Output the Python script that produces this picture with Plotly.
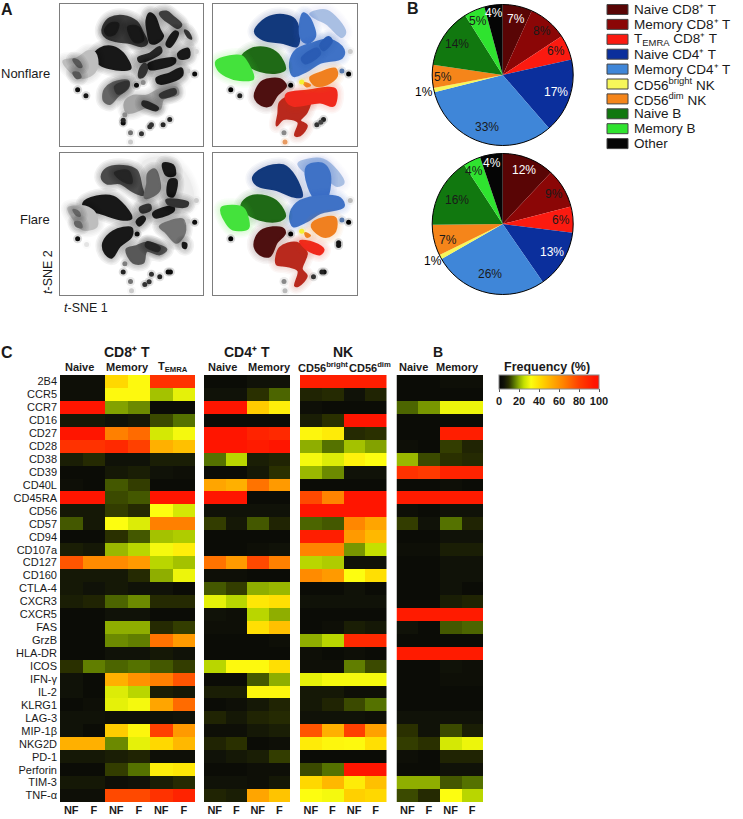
import plotly.graph_objects as go

W, H = 743, 819

# ---- panel C: frequency (%) per marker ----
MARKERS = ["2B4", "CCR5", "CCR7", "CD16", "CD27", "CD28", "CD38", "CD39", "CD40L", "CD45RA", "CD56",
           "CD57", "CD94", "CD107a", "CD127", "CD160", "CTLA-4", "CXCR3", "CXCR5", "FAS", "GrzB",
           "HLA-DR", "ICOS", "IFN-γ", "IL-2", "KLRG1", "LAG-3", "MIP-1β", "NKG2D", "PD-1", "Perforin",
           "TIM-3", "TNF-α"]

# Naive NF/F, Memory NF/F, TEMRA NF/F
CD8_T = [[4, 4, 42, 33, 85, 85], [4, 4, 33, 33, 22, 29], [95, 95, 19, 17, 3, 3], [6, 6, 5, 6, 12, 15],
         [95, 95, 65, 70, 27, 31], [85, 85, 88, 80, 52, 48], [7, 9, 5, 5, 7, 7], [3, 3, 6, 7, 5, 4],
         [4, 3, 13, 11, 3, 3], [95, 95, 12, 13, 95, 95], [6, 6, 11, 9, 32, 27], [13, 6, 32, 28, 65, 65],
         [3, 3, 10, 13, 22, 23], [7, 6, 21, 24, 31, 36], [75, 62, 62, 58, 24, 22], [6, 6, 6, 9, 20, 30],
         [6, 5, 6, 5, 5, 3], [7, 8, 14, 17, 9, 9], [3, 3, 5, 5, 3, 3], [3, 3, 20, 20, 9, 11],
         [3, 3, 17, 16, 68, 58], [3, 3, 5, 5, 6, 5], [10, 16, 14, 15, 13, 11], [5, 3, 52, 60, 65, 75],
         [5, 3, 28, 24, 7, 6], [3, 4, 29, 31, 55, 70], [5, 5, 4, 4, 4, 5], [5, 3, 45, 34, 80, 58],
         [52, 52, 17, 29, 42, 50], [6, 6, 7, 8, 4, 4], [3, 3, 11, 15, 36, 38], [6, 6, 4, 5, 7, 9],
         [4, 4, 78, 78, 85, 90]]
# Naive NF/F, Memory NF/F
CD4_T = [[3, 3, 5, 5], [5, 5, 10, 14], [95, 95, 45, 36], [3, 3, 3, 3], [95, 95, 90, 88], [95, 95, 93, 95],
         [15, 24, 7, 8], [3, 3, 6, 10], [55, 52, 68, 58], [95, 95, 3, 3], [5, 5, 5, 5], [11, 6, 13, 8],
         [3, 3, 3, 3], [3, 3, 4, 5], [68, 58, 78, 65], [4, 4, 3, 3], [13, 11, 20, 21], [29, 24, 38, 40],
         [5, 4, 24, 20], [4, 4, 40, 48], [3, 3, 3, 4], [3, 3, 3, 3], [24, 33, 33, 40], [3, 3, 13, 20],
         [7, 7, 34, 34], [3, 4, 6, 8], [8, 6, 8, 9], [4, 4, 6, 7], [8, 10, 3, 4], [5, 6, 7, 11],
         [3, 3, 4, 4], [5, 5, 4, 6], [8, 7, 55, 47]]
# CD56bright NF/F, CD56dim NF/F
NK = [[92, 92, 92, 92], [8, 9, 5, 8], [4, 3, 3, 3], [7, 10, 95, 95], [34, 37, 9, 10], [20, 15, 22, 19],
      [31, 28, 35, 32], [21, 17, 5, 5], [3, 3, 3, 3], [78, 64, 95, 95], [95, 95, 95, 95], [14, 13, 63, 55],
      [92, 92, 58, 50], [64, 64, 18, 25], [24, 23, 5, 5], [62, 58, 32, 40], [3, 3, 5, 3], [5, 5, 5, 5],
      [3, 3, 3, 3], [3, 4, 7, 6], [20, 24, 88, 88], [4, 3, 4, 3], [4, 4, 16, 12], [29, 31, 31, 31],
      [6, 6, 4, 4], [6, 8, 12, 15], [5, 5, 5, 4], [75, 52, 80, 56], [37, 34, 33, 40], [3, 3, 3, 3],
      [12, 15, 95, 95], [42, 50, 37, 48], [32, 31, 44, 42]]
# Naive NF/F, Memory NF/F
B_CELLS = [[3, 3, 4, 4], [3, 3, 3, 3], [14, 18, 30, 30], [3, 3, 3, 3], [3, 3, 92, 92], [4, 3, 11, 8],
           [21, 12, 10, 9], [85, 82, 90, 90], [3, 3, 4, 3], [93, 93, 93, 93], [4, 3, 5, 5], [11, 5, 15, 8],
           [3, 3, 5, 5], [4, 4, 7, 7], [3, 3, 5, 5], [3, 3, 5, 5], [3, 3, 5, 3], [3, 3, 7, 8],
           [93, 93, 93, 93], [5, 3, 13, 14], [3, 3, 3, 3], [93, 93, 93, 93], [3, 3, 5, 4], [3, 3, 4, 4],
           [3, 3, 3, 3], [3, 3, 3, 3], [5, 5, 5, 5], [10, 5, 12, 7], [11, 10, 27, 30], [4, 3, 8, 8],
           [3, 3, 5, 5], [20, 20, 13, 15], [12, 9, 32, 24]]

CD8_COLS = ["NF", "F", "NF", "F", "NF", "F"]
PAIR_COLS = ["NF", "F", "NF", "F"]

# ---- panel B: pies ----
POPULATIONS = ["Naive CD8⁺ T", "Memory CD8⁺ T", "T<sub>EMRA</sub> CD8⁺ T",
               "Naive CD4⁺ T", "Memory CD4⁺ T", "CD56<sup>bright</sup> NK",
               "CD56<sup>dim</sup> NK", "Naive B", "Memory B", "Other"]
POP_COLORS = ["#590505", "#8b0606", "#fb1a10", "#0b2f9c", "#3f86d8", "#f7f75a", "#f5851a", "#11780f",
              "#2fe32f", "#050505"]
NONFLARE_SHARE = [6.8, 9.0, 5.8, 17.2, 32.6, 1.0, 5.3, 13.8, 4.8, 4.2]
FLARE_SHARE = [12.0, 9.0, 6.0, 13.4, 26.4, 1.0, 7.1, 16.0, 4.0, 5.2]
NONFLARE_LABELS = ["7%", "8%", "6%", "17%", "33%", "1%", "5%", "14%", "5%", "4%"]
FLARE_LABELS = ["12%", "9%", "6%", "13%", "26%", "1%", "7%", "16%", "4%", "4%"]
NONFLARE_LABEL_XY = [(516, 19), (542, 31), (556, 51), (556, 92), (487, 127), (424, 92), (443, 77), (457, 44),
                     (478, 21), (494, 13)]
FLARE_LABEL_XY = [(524, 170), (554, 194), (561, 220), (552, 252), (490, 274), (433, 261), (448, 240), (457, 200),
                  (474, 171), (492, 163)]
LABEL_COLORS = ["white", "#1a1a1a", "#1a1a1a", "white", "#1a1a1a", "black", "#1a1a1a", "#1a1a1a", "#1a1a1a", "white"]

# ---- panel A: t-SNE islands, outlines traced by eye (x, y in a 0-430 panel frame) ----
NONFLARE_DENSITY = [
    (.12, [(250, 30), (300, 15), (370, 60), (400, 130), (390, 170), (300, 190), (260, 210), (235, 225), (225, 170), (255, 130)]),
    (.12, [(280, 215), (370, 190), (375, 225), (300, 250)]),
    (.82, [(130, 68), (150, 43), (190, 36), (230, 53), (250, 88), (262, 118), (245, 128), (210, 118), (170, 113), (140, 103), (128, 88)]),
    (.95, [(135, 80), (150, 60), (175, 60), (165, 90), (145, 95)]),
    (.95, [(205, 70), (235, 70), (250, 110), (225, 115)]),
    (.95, [(260, 50), (270, 28), (285, 38), (300, 78), (310, 98), (290, 118), (272, 118), (264, 88)]),
    (.8, [(300, 28), (320, 23), (340, 38), (365, 63), (355, 73), (330, 58), (310, 43)]),
    (.85, [(375, 80), (385, 85), (395, 105), (385, 100)]),
    (.95, [(320, 123), (345, 83), (355, 88), (330, 130)]),
    (.9, [(235, 163), (270, 150), (300, 130), (305, 145), (275, 165), (240, 175)]),
    (.95, [(265, 183), (345, 165), (345, 178), (270, 197)]),
    (.95, [(355, 150), (385, 135), (388, 160), (360, 165)]),
    (.95, [(290, 225), (330, 210), (365, 195), (368, 215), (335, 235), (295, 240)]),
    (.85, [(240, 198), (255, 180), (262, 195), (250, 220), (238, 222)]),
    (.95, [(100, 160), (120, 135), (160, 130), (190, 150), (212, 195), (190, 200), (150, 195), (120, 183)]),
    (.3, [(10, 173), (50, 165), (85, 143), (105, 148), (112, 190), (90, 218), (60, 223), (30, 203)]),
    (.7, [(40, 168), (55, 172), (65, 190), (55, 190)]),
    (.7, [(40, 208), (55, 208), (62, 222), (50, 224)]),
    (.65, [(135, 258), (160, 238), (205, 233), (205, 253), (175, 278), (150, 303), (132, 293), (130, 273)]),
    (.85, [(165, 250), (205, 236), (205, 250), (175, 272)]),
    (.4, [(195, 298), (220, 278), (260, 278), (300, 258), (350, 253), (355, 273), (310, 288), (300, 318), (260, 313), (220, 328), (200, 328)]),
    (.9, [(250, 295), (295, 315), (290, 322), (248, 305)]),
    (.85, [(300, 275), (345, 258), (348, 270), (305, 283)]),
]
NONFLARE_DOTS = [(230, 246, 1), (405, 212, 1), (53, 260, 1), (78, 278, .95), (190, 360, 1), (190, 352, .9),
                 (275, 366, .85), (270, 372, .85), (310, 366, .9), (330, 350, .9), (245, 393, .85), (212, 390, .6),
                 (212, 418, .25), (410, 144, .2), (385, 203, .25), (250, 238, .5), (195, 335, .5)]

FLARE_DENSITY = [
    (.12, [(250, 30), (320, 15), (380, 70), (400, 140), (380, 170), (300, 190), (260, 215), (232, 225), (225, 170), (250, 110)]),
    (.75, [(125, 72), (140, 47), (190, 39), (230, 52), (245, 102), (250, 127), (220, 117), (180, 92), (140, 92)]),
    (.9, [(165, 60), (205, 55), (215, 90), (190, 85)]),
    (.65, [(265, 62), (285, 50), (300, 110), (280, 130), (255, 135), (262, 95)]),
    (.95, [(310, 32), (340, 37), (345, 67), (320, 67)]),
    (.95, [(330, 82), (350, 82), (340, 132), (325, 127)]),
    (.95, [(70, 152), (110, 132), (160, 132), (195, 162), (215, 197), (190, 202), (120, 182), (80, 172)]),
    (.3, [(25, 167), (50, 162), (75, 162), (105, 182), (110, 222), (70, 232), (50, 212)]),
    (.65, [(40, 172), (55, 178), (60, 190), (50, 188)]),
    (.65, [(45, 210), (60, 210), (65, 225), (50, 222)]),
    (.85, [(240, 167), (270, 157), (272, 172), (245, 180)]),
    (.95, [(280, 182), (340, 162), (342, 175), (285, 195)]),
    (.85, [(320, 142), (385, 150), (380, 162), (325, 155)]),
    (.95, [(230, 207), (250, 192), (256, 200), (238, 220)]),
    (.95, [(130, 272), (160, 237), (215, 227), (215, 252), (180, 282), (155, 317), (135, 302)]),
    (.6, [(300, 222), (330, 207), (370, 202), (375, 242), (350, 272), (320, 242)]),
    (.95, [(370, 272), (380, 275), (378, 288), (370, 285)]),
    (.7, [(200, 292), (230, 282), (260, 272), (320, 292), (300, 307), (260, 297), (250, 332), (220, 332)]),
    (.9, [(262, 270), (300, 287), (295, 297), (258, 282)]),
]
FLARE_DOTS = [(232, 245, 1), (405, 210, 1), (53, 260, 1), (80, 277, .15), (190, 360, .9), (275, 367, .85),
              (268, 390, .85), (255, 398, .85), (300, 375, .9), (332, 360, 1), (325, 360, 1), (212, 389, .6),
              (215, 417, .25), (410, 144, .25), (385, 207, .25), (195, 335, .55)]

NONFLARE_CLUSTERS = [
    ("#a9bfe3", [(290, 30), (340, 20), (395, 85), (385, 100), (340, 60), (310, 45)]),
    ("#12397c", [(125, 83), (160, 43), (210, 33), (245, 48), (258, 100), (250, 128), (210, 118), (150, 108)]),
    ("#3f72c6", [(260, 58), (270, 28), (285, 38), (300, 68), (305, 98), (285, 118), (265, 108)]),
    ("#3f72c6", [(230, 178), (250, 138), (300, 118), (350, 108), (390, 138), (385, 163), (320, 178), (280, 203), (240, 218)]),
    ("#2a5cb4", [(320, 125), (345, 100), (355, 112), (330, 140)]),
    ("#2a5cb4", [(265, 165), (310, 135), (320, 150), (275, 180)]),
    ("#1f6a16", [(85, 163), (110, 138), (160, 133), (195, 153), (215, 198), (190, 208), (140, 203), (100, 183)]),
    ("#44e23c", [(10, 173), (50, 158), (85, 158), (105, 183), (120, 226), (80, 230), (40, 218), (15, 198)]),
    ("#4e1010", [(130, 258), (150, 233), (200, 228), (218, 248), (190, 278), (170, 308), (145, 306), (125, 283)]),
    ("#b9291d", [(200, 298), (240, 278), (290, 288), (280, 328), (260, 353), (280, 368), (260, 398), (245, 398), (255, 358), (210, 348), (190, 368), (195, 333)]),
    ("#f0291c", [(220, 273), (280, 263), (365, 258), (360, 308), (320, 298), (240, 308), (220, 293)]),
    ("#f08020", [(290, 223), (320, 208), (365, 196), (370, 218), (340, 243), (305, 246)]),
    ("#f08020", [(270, 238), (290, 246), (280, 250)]),
]
NONFLARE_CLUSTER_DOTS = [(232, 246, "black"), (405, 212, "black"), (53, 260, "black"), (80, 278, "#222222"),
                         (310, 366, "#333333"), (330, 350, "#222222"), (322, 358, "#444444"), (212, 390, "#888888"),
                         (215, 418, "#e89a60"), (410, 144, "#cccccc"), (265, 236, "#f5f030"), (385, 203, "#5577aa")]

FLARE_CLUSTERS = [
    ("#a9bfe3", [(255, 32), (330, 20), (390, 90), (370, 100), (330, 70), (280, 60)]),
    ("#12397c", [(120, 72), (150, 47), (210, 37), (245, 72), (265, 132), (240, 132), (190, 112), (140, 102), (122, 87)]),
    ("#3f72c6", [(280, 42), (325, 32), (345, 52), (350, 92), (335, 142), (310, 142), (285, 102)]),
    ("#3f72c6", [(230, 192), (250, 152), (310, 132), (380, 137), (390, 162), (320, 182), (280, 207), (240, 222)]),
    ("#1f6a16", [(85, 157), (110, 132), (160, 132), (195, 152), (215, 192), (190, 207), (140, 202), (100, 182)]),
    ("#44e23c", [(25, 167), (60, 160), (90, 167), (105, 202), (105, 227), (60, 232), (40, 212)]),
    ("#4e1010", [(128, 257), (150, 232), (205, 227), (215, 242), (190, 272), (170, 312), (145, 310), (125, 287)]),
    ("#b9291d", [(200, 287), (250, 272), (280, 302), (265, 352), (280, 372), (255, 402), (245, 402), (255, 357), (220, 342), (190, 337)]),
    ("#f0291c", [(260, 267), (300, 272), (330, 292), (320, 307), (280, 292)]),
    ("#f08020", [(295, 217), (330, 197), (365, 197), (365, 237), (340, 254), (310, 242)]),
    ("#f08020", [(275, 242), (290, 250), (280, 254)]),
]
FLARE_CLUSTER_DOTS = [(232, 245, "black"), (405, 210, "black"), (53, 260, "black"), (375, 272, "#111111"),
                      (375, 280, "#111111"), (300, 375, "#333333"), (332, 360, "#111111"), (325, 360, "#222222"),
                      (212, 389, "#888888"), (215, 417, "#bbbbbb"), (410, 144, "#bbbbbb"), (265, 237, "#f5f030"),
                      (385, 203, "#5577aa")]

FREQ_TICKS = [0, 20, 40, 60, 80, 100]
FREQ_SCALE = [[0, "#040404"], [.05, "#101208"], [.10, "#2a3000"], [.15, "#557200"], [.20, "#8fae00"],
              [.25, "#c4e000"], [.32, "#fdfd10"], [.42, "#ffd800"], [.52, "#ffb000"], [.65, "#ff8000"],
              [.80, "#ff4000"], [.95, "#ff1500"], [1, "#ff1000"]]

FONT = "Liberation Sans"


def px_x(x):
    return x / W


def px_y(y):
    return 1 - y / H


def blob(points, color, xaxis, yaxis, halo):
    # pale strokes under the fill stand in for the blur of the density map
    xs = [p[0] for p in points] + [points[0][0]]
    ys = [p[1] for p in points] + [points[0][1]]
    out = []
    for width in (15, 12, 9, 6, 3):
        out.append(go.Scatter(x=xs, y=ys, mode="lines", line=dict(color=halo, width=width, shape="spline"),
                              hoverinfo="skip", showlegend=False, xaxis=xaxis, yaxis=yaxis))
    out.append(go.Scatter(x=xs, y=ys, mode="lines", fill="toself", fillcolor=color,
                          line=dict(color=color, width=2, shape="spline"),
                          hoverinfo="skip", showlegend=False, xaxis=xaxis, yaxis=yaxis))
    return out


def grey(density):
    g = min(255, int(255 * (1 - density) + 12))
    return f"rgb({g},{g},{g})"


def grey_halo(density):
    # faint islands must not get an edge darker than their own fill
    return f"rgba(0,0,0,{0.05 * min(1, density / 0.6):.3f})"


def rgba(hex_color, alpha):
    r, g, b = int(hex_color[1:3], 16), int(hex_color[3:5], 16), int(hex_color[5:7], 16)
    return f"rgba({r},{g},{b},{alpha})"


def dots(xs, ys, colors, xaxis, yaxis):
    return [
        go.Scatter(x=xs, y=ys, mode="markers", marker=dict(size=9, color=colors, opacity=.15, line_width=0),
                   hoverinfo="skip", showlegend=False, xaxis=xaxis, yaxis=yaxis),
        go.Scatter(x=xs, y=ys, mode="markers", marker=dict(size=5, color=colors, line_width=0),
                   hoverinfo="skip", showlegend=False, xaxis=xaxis, yaxis=yaxis),
    ]


fig = go.Figure()
layout = dict(width=W, height=H, margin=dict(l=0, r=0, t=0, b=0), paper_bgcolor="white", plot_bgcolor="white",
              font=dict(family=FONT, color="#1a1a1a"), showlegend=False, autosize=False)

# ---- panel A ----
tsne_panels = [
    ("x5", "y5", (60, 203, 4, 146)),
    ("x6", "y6", (213, 357, 4, 146)),
    ("x7", "y7", (60, 203, 153, 295)),
    ("x8", "y8", (213, 357, 153, 295)),
]
for num, (xa, ya, box) in enumerate(tsne_panels):
    idx = xa[1:]
    axis = dict(range=[0, 430], showgrid=False, zeroline=False, showticklabels=False, ticks="",
                showline=True, mirror=True, linecolor="#7d7d7d", linewidth=1, fixedrange=True)
    layout["xaxis" + idx] = dict(axis, domain=[px_x(box[0]), px_x(box[1])], anchor=ya)
    layout["yaxis" + idx] = dict(axis, range=[430, 0], domain=[px_y(box[3]), px_y(box[2])], anchor=xa)

for d, pts in NONFLARE_DENSITY:
    fig.add_traces(blob(pts, grey(d), "x5", "y5", grey_halo(d)))
fig.add_traces(dots([p[0] for p in NONFLARE_DOTS], [p[1] for p in NONFLARE_DOTS],
                    [grey(p[2]) for p in NONFLARE_DOTS], "x5", "y5"))
for d, pts in FLARE_DENSITY:
    fig.add_traces(blob(pts, grey(d), "x7", "y7", grey_halo(d)))
fig.add_traces(dots([p[0] for p in FLARE_DOTS], [p[1] for p in FLARE_DOTS],
                    [grey(p[2]) for p in FLARE_DOTS], "x7", "y7"))
for c, pts in NONFLARE_CLUSTERS:
    fig.add_traces(blob(pts, c, "x6", "y6", rgba(c, .04)))
fig.add_traces(dots([p[0] for p in NONFLARE_CLUSTER_DOTS], [p[1] for p in NONFLARE_CLUSTER_DOTS],
                    [p[2] for p in NONFLARE_CLUSTER_DOTS], "x6", "y6"))
for c, pts in FLARE_CLUSTERS:
    fig.add_traces(blob(pts, c, "x8", "y8", rgba(c, .04)))
fig.add_traces(dots([p[0] for p in FLARE_CLUSTER_DOTS], [p[1] for p in FLARE_CLUSTER_DOTS],
                    [p[2] for p in FLARE_CLUSTER_DOTS], "x8", "y8"))

# ---- panel B ----
annotations = []
shapes = []
for share, cy in ((NONFLARE_SHARE, 75), (FLARE_SHARE, 224)):
    fig.add_trace(go.Pie(values=share, sort=False, direction="clockwise", rotation=0,
                         marker=dict(colors=POP_COLORS, line=dict(color="black", width=0)),
                         textinfo="none", hoverinfo="skip", showlegend=False,
                         domain=dict(x=[px_x(432.2), px_x(573.2)], y=[px_y(cy + 70.5), px_y(cy - 70.5)])))
    # black rim round the pie only, the slices have no edges between them
    shapes.append(dict(type="circle", xref="paper", yref="paper", x0=px_x(432.2), x1=px_x(573.2),
                       y0=px_y(cy + 70.5), y1=px_y(cy - 70.5), line=dict(color="black", width=1)))


def text(x, y, s, size=11, bold=False, anchor="center", color="#1a1a1a", **kw):
    annotations.append(dict(x=px_x(x), y=px_y(y), xref="paper", yref="paper", text=f"<b>{s}</b>" if bold else s,
                            showarrow=False, xanchor=anchor, yanchor="middle",
                            font=dict(family=FONT, size=size, color=color), **kw))


for labels, positions in ((NONFLARE_LABELS, NONFLARE_LABEL_XY), (FLARE_LABELS, FLARE_LABEL_XY)):
    for lab, (x, y), col in zip(labels, positions, LABEL_COLORS):
        text(x, y, lab, size=12, color=col)

# legend swatches and text
for i, (name, col) in enumerate(zip(POPULATIONS, POP_COLORS)):
    y = 9.5 + i * 14.9
    shapes.append(dict(type="rect", xref="paper", yref="paper", x0=px_x(607), x1=px_x(628),
                       y0=px_y(y + 5), y1=px_y(y - 5), fillcolor=col, line=dict(color="#444444", width=1)))
    text(632, y, name, size=13.5, anchor="left")

# ---- panel C ----
heat_groups = [
    ("x", "y", CD8_T, CD8_COLS, 60, 195),
    ("x2", "y2", CD4_T, PAIR_COLS, 204, 290),
    ("x3", "y3", NK, PAIR_COLS, 300, 386.5),
    ("x4", "y4", B_CELLS, PAIR_COLS, 396.5, 483),
]
for i, (xa, ya, z, cols, x0, x1) in enumerate(heat_groups):
    fig.add_trace(go.Heatmap(z=z, x=list(range(len(cols))), y=MARKERS, coloraxis="coloraxis", xaxis=xa, yaxis=ya,
                             hoverongaps=False))
    suffix = "" if xa == "x" else xa[1:]
    layout["xaxis" + suffix] = dict(domain=[px_x(x0), px_x(x1)], anchor=ya, range=[-.5, len(cols) - .5],
                                    tickmode="array", tickvals=list(range(len(cols))), ticktext=cols,
                                    tickfont=dict(size=11, family=FONT, weight="bold"), ticks="", ticklen=0,
                                    showgrid=False, zeroline=False, showline=False, fixedrange=True)
    layout["yaxis" + suffix] = dict(domain=[px_y(802), px_y(375)], anchor=xa, type="category",
                                    categoryarray=MARKERS, range=[len(MARKERS) - .5, -.5],
                                    showticklabels=i == 0, tickfont=dict(size=11, family=FONT), ticks="",
                                    ticklabelstandoff=2,
                                    showgrid=False, zeroline=False, showline=False, fixedrange=True, dtick=1)

layout["coloraxis"] = dict(cmin=0, cmax=100, colorscale=FREQ_SCALE,
                           colorbar=dict(orientation="h", x=px_x(499), xanchor="left", y=px_y(375), yanchor="top",
                                         lenmode="pixels", len=100, thicknessmode="pixels", thickness=14,
                                         xpad=0, ypad=0, outlinewidth=1, outlinecolor="#888888",
                                         tickmode="array", tickvals=FREQ_TICKS, ticks="outside", ticklen=3,
                                         tickcolor="#555555",
                                         tickfont=dict(size=11, family=FONT, weight="bold")))

# panel letters and headings
text(7, 10, "A", size=16, bold=True)
text(413, 9, "B", size=16, bold=True)
text(7, 352, "C", size=16, bold=True)
text(52, 73, "Nonflare", size=13, anchor="right")
text(52, 220, "Flare", size=13, anchor="right")
text(48, 272, "<i>t</i>-SNE 2", size=12.5, textangle=-90)
text(86, 308, "<i>t</i>-SNE 1", size=12.5)

text(127, 352, "CD8⁺ T", size=14, bold=True)
text(247, 352, "CD4⁺ T", size=14, bold=True)
text(343, 352, "NK", size=14, bold=True)
text(438, 352, "B", size=14, bold=True)
for x, s in ((79, "Naive"), (127, "Memory"), (173, "T<sub>EMRA</sub>"), (223, "Naive"), (269, "Memory"),
             (323, "CD56<sup>bright</sup>"), (370, "CD56<sup>dim</sup>"), (413, "Naive"), (457, "Memory")):
    text(x, 367, s, size=11, bold=True)
text(547, 367, "Frequency (%)", size=12.5, bold=True)

layout["annotations"] = annotations
layout["shapes"] = shapes
fig.update_layout(**layout)

fig.write_html("out.html", config={"displayModeBar": False}, post_script="document.body.style.margin='0';")
